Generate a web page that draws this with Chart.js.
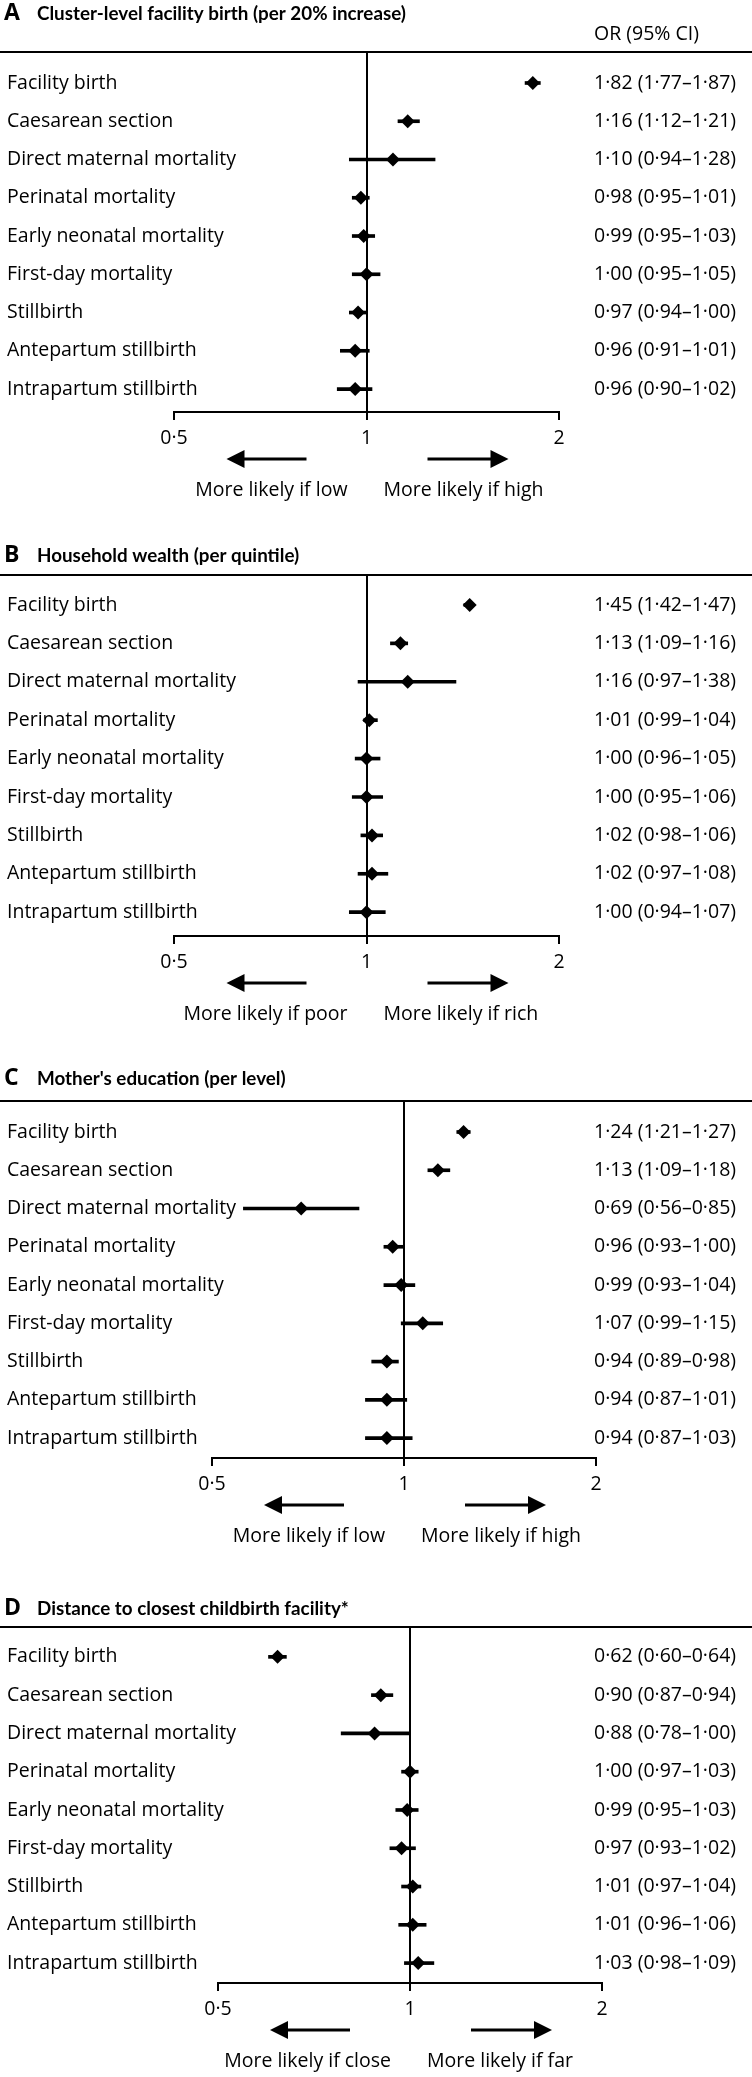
<!DOCTYPE html>
<html>
<head>
<meta charset="utf-8">
<script src="https://cdn.jsdelivr.net/npm/chart.js@4.4.1/dist/chart.umd.min.js"></script>
<style>
  html, body { margin: 0; padding: 0; background: #fff; }
  body { width: 752px; height: 2077px; position: relative; overflow: hidden; }
  canvas { position: absolute; left: 0; }
</style>
</head>
<body>
<canvas id="c0"></canvas>
<canvas id="c1"></canvas>
<canvas id="c2"></canvas>
<canvas id="c3"></canvas>
<script>
// ---------------- DATA ----------------
const categories = [
  'Facility birth',
  'Caesarean section',
  'Direct maternal mortality',
  'Perinatal mortality',
  'Early neonatal mortality',
  'First-day mortality',
  'Stillbirth',
  'Antepartum stillbirth',
  'Intrapartum stillbirth'
];
const tickValues = [0.5, 1, 2];
const tickLabels = ['0·5', '1', '2'];

const panelLetters = ['A', 'B', 'C', 'D'];
const panelTitles = [
  'Cluster-level facility birth (per 20% increase)',
  'Household wealth (per quintile)',
  "Mother's education (per level)",
  'Distance to closest childbirth facility*'
];
const leftArrowLabels = ['More likely if low', 'More likely if poor', 'More likely if low', 'More likely if close'];
const rightArrowLabels = ['More likely if high', 'More likely if rich', 'More likely if high', 'More likely if far'];
const columnHeader = 'OR (95% CI)';

const orA = [1.82, 1.16, 1.10, 0.98, 0.99, 1.00, 0.97, 0.96, 0.96];
const loA = [1.77, 1.12, 0.94, 0.95, 0.95, 0.95, 0.94, 0.91, 0.90];
const hiA = [1.87, 1.21, 1.28, 1.01, 1.03, 1.05, 1.00, 1.01, 1.02];

const orB = [1.45, 1.13, 1.16, 1.01, 1.00, 1.00, 1.02, 1.02, 1.00];
const loB = [1.42, 1.09, 0.97, 0.99, 0.96, 0.95, 0.98, 0.97, 0.94];
const hiB = [1.47, 1.16, 1.38, 1.04, 1.05, 1.06, 1.06, 1.08, 1.07];

const orC = [1.24, 1.13, 0.69, 0.96, 0.99, 1.07, 0.94, 0.94, 0.94];
const loC = [1.21, 1.09, 0.56, 0.93, 0.93, 0.99, 0.89, 0.87, 0.87];
const hiC = [1.27, 1.18, 0.85, 1.00, 1.04, 1.15, 0.98, 1.01, 1.03];

const orD = [0.62, 0.90, 0.88, 1.00, 0.99, 0.97, 1.01, 1.01, 1.03];
const loD = [0.60, 0.87, 0.78, 0.97, 0.95, 0.93, 0.97, 0.96, 0.98];
const hiD = [0.64, 0.94, 1.00, 1.03, 1.03, 1.02, 1.04, 1.06, 1.09];

const seriesOR = [orA, orB, orC, orD];
const seriesLo = [loA, loB, loC, loD];
const seriesHi = [hiA, hiB, hiC, hiD];

// ---------------- LAYOUT / STYLE ----------------
const FAMILY = "'Open Sans', sans-serif";
const TITLE_FAMILY = "Lato, 'Open Sans', sans-serif";
const W = 752;
const LABEL_LEFT = 7;
const VALUES_LEFT = 594;
const layouts = [
  { top: 0,    height: 530, titleBase: 20,   headerBase: 40,   ruleY: 52,   axisY: 412,  left: 174, right: 559, yMin: -0.81, yMax: 8.60 },
  { top: 530,  height: 527, titleBase: 562,  headerBase: null, ruleY: 575,  axisY: 936,  left: 174, right: 559, yMin: -0.78, yMax: 8.62 },
  { top: 1057, height: 528, titleBase: 1085, headerBase: null, ruleY: 1101, axisY: 1458, left: 212, right: 596, yMin: -0.81, yMax: 8.52 },
  { top: 1585, height: 492, titleBase: 1615, headerBase: null, ruleY: 1627, axisY: 1983, left: 218, right: 602, yMin: -0.78, yMax: 8.52 }
];

const mctx = document.createElement('canvas').getContext('2d');
function textWidth(txt, size, weight, family) {
  mctx.font = (weight ? weight + ' ' : '') + size + 'px ' + (family || FAMILY);
  return mctx.measureText(txt).width;
}
const LABEL_SIZE = Math.round(100 * 229 / textWidth('Direct maternal mortality', 100) * 10) / 10;
const TITLE_SIZE = 19.5;
const TITLE_SCALE = Math.min(1, 369 / textWidth(panelTitles[0], TITLE_SIZE, 'bold', TITLE_FAMILY));
const LETTER_SIZE = 23;

Chart.defaults.font.family = FAMILY;
Chart.defaults.color = '#000';

const fmt = v => v.toFixed(2).replace('.', '·');

function drawArrow(ctx, tailX, headX, y) {
  const dir = Math.sign(headX - tailX);
  const headLen = 18, headHalf = 9;
  ctx.lineWidth = 3;
  ctx.beginPath();
  ctx.moveTo(tailX, y);
  ctx.lineTo(headX - dir * (headLen - 1), y);
  ctx.stroke();
  ctx.beginPath();
  ctx.moveTo(headX, y);
  ctx.lineTo(headX - dir * headLen, y - headHalf);
  ctx.lineTo(headX - dir * headLen, y + headHalf);
  ctx.closePath();
  ctx.fill();
}

const decor = {
  id: 'decor',
  afterDraw(chart, args, o) {
    const { ctx, chartArea } = chart;
    const xs = chart.scales.x;
    ctx.save();
    ctx.strokeStyle = '#000';
    ctx.fillStyle = '#000';
    // top rule across full width
    ctx.lineWidth = 2;
    ctx.beginPath();
    ctx.moveTo(0, chartArea.top);
    ctx.lineTo(chart.width, chartArea.top);
    ctx.stroke();
    // titles
    ctx.textBaseline = 'alphabetic';
    ctx.textAlign = 'left';
    ctx.font = 'bold ' + LETTER_SIZE + 'px ' + FAMILY;
    ctx.fillText(o.letter, 4, o.titleBase);
    ctx.save();
    ctx.translate(37, o.titleBase);
    ctx.scale(TITLE_SCALE, 1);
    ctx.font = 'bold ' + TITLE_SIZE + 'px ' + TITLE_FAMILY;
    ctx.fillText(o.title, 0, 0);
    ctx.restore();
    ctx.font = LABEL_SIZE + 'px ' + FAMILY;
    if (o.headerBase !== null) {
      ctx.fillText(columnHeader, VALUES_LEFT, o.headerBase);
    }
    // direction arrows and labels, placed from the x scale
    const x1 = xs.getPixelForValue(1);
    const ay = chartArea.bottom + 47;
    drawArrow(ctx, x1 - 60, x1 - 140, ay);
    drawArrow(ctx, x1 + 61, x1 + 142, ay);
    const ly = chartArea.bottom + 84;
    ctx.textAlign = 'right';
    ctx.fillText(o.leftLabel, x1 - 19, ly);
    ctx.textAlign = 'left';
    ctx.fillText(o.rightLabel, x1 + 17, ly);
    ctx.restore();
  }
};

function makeChart(i) {
  const L = layouts[i];
  const or = seriesOR[i], lo = seriesLo[i], hi = seriesHi[i];
  const canvas = document.getElementById('c' + i);
  canvas.width = W;
  canvas.height = L.height;
  canvas.style.top = L.top + 'px';
  canvas.style.width = W + 'px';
  canvas.style.height = L.height + 'px';

  const valueLabels = or.map((v, k) => fmt(v) + ' (' + fmt(lo[k]) + '–' + fmt(hi[k]) + ')');
  const leftW = L.left - LABEL_LEFT;
  const rightW = W - L.right;
  const widestVal = Math.max(...valueLabels.map(c => textWidth(c, LABEL_SIZE)));
  const xAxisH = L.top + L.height - L.axisY;
  const rowTicks = s => { s.ticks = categories.map((c, k) => ({ value: k })); };
  const labelFont = { family: FAMILY, size: LABEL_SIZE };
  const fitY = w => s => { s.width = w; s.paddingTop = 0; s.paddingBottom = 0; };

  new Chart(canvas, {
    type: 'bar',
    data: {
      datasets: [
        {
          type: 'scatter',
          data: categories.map((c, k) => ({ x: or[k], y: k })),
          pointStyle: 'rectRot',
          pointRadius: 7,
          pointHoverRadius: 7,
          backgroundColor: '#000',
          borderColor: '#000',
          borderWidth: 0,
          order: 1
        },
        {
          type: 'bar',
          data: categories.map((c, k) => ({ x: [lo[k], hi[k]], y: k })),
          backgroundColor: '#000',
          borderWidth: 0,
          barThickness: 3,
          order: 2
        }
      ]
    },
    options: {
      indexAxis: 'y',
      responsive: false,
      animation: false,
      events: [],
      layout: { padding: { top: L.ruleY - L.top, left: LABEL_LEFT, right: 0, bottom: 0 } },
      plugins: {
        legend: { display: false },
        tooltip: { enabled: false },
        title: { display: false },
        decor: {
          letter: panelLetters[i],
          title: panelTitles[i],
          titleBase: L.titleBase - L.top,
          headerBase: L.headerBase === null ? null : L.headerBase - L.top,
          leftLabel: leftArrowLabels[i],
          rightLabel: rightArrowLabels[i]
        }
      },
      scales: {
        x: {
          type: 'logarithmic',
          position: 'bottom',
          min: 0.5,
          max: 2,
          beginAtZero: false,
          offset: false,
          afterBuildTicks: s => { s.ticks = tickValues.map(v => ({ value: v })); },
          afterFit: s => { s.height = xAxisH; },
          grid: {
            display: true,
            drawOnChartArea: true,
            drawTicks: true,
            tickLength: 8,
            lineWidth: 2,
            tickWidth: 2,
            tickColor: '#000',
            color: c => (c.tick && c.tick.value === 1) ? '#000' : 'rgba(0,0,0,0)'
          },
          border: { display: true, color: '#000', width: 2 },
          ticks: {
            autoSkip: false,
            maxRotation: 0,
            padding: 7,
            color: '#000',
            font: labelFont,
            callback: v => tickLabels[tickValues.indexOf(v)]
          }
        },
        y: {
          type: 'linear',
          position: 'left',
          reverse: true,
          min: L.yMin,
          max: L.yMax,
          offset: false,
          afterBuildTicks: rowTicks,
          afterFit: fitY(leftW),
          grid: { display: false, drawTicks: false, offset: false },
          border: { display: false },
          ticks: {
            autoSkip: false,
            mirror: true,
            crossAlign: 'near',
            padding: LABEL_LEFT - L.left,
            color: '#000',
            font: labelFont,
            callback: v => categories[v]
          }
        },
        y2: {
          type: 'linear',
          position: 'right',
          reverse: true,
          min: L.yMin,
          max: L.yMax,
          offset: false,
          afterBuildTicks: rowTicks,
          afterFit: fitY(rightW),
          grid: { display: false, drawTicks: false, offset: false },
          border: { display: false },
          ticks: {
            autoSkip: false,
            mirror: true,
            crossAlign: 'far',
            padding: VALUES_LEFT - L.right + widestVal,
            color: '#000',
            font: labelFont,
            callback: v => valueLabels[v]
          }
        }
      }
    },
    plugins: [decor]
  });
}

for (let i = 0; i < 4; i++) makeChart(i);
</script>
</body>
</html>
